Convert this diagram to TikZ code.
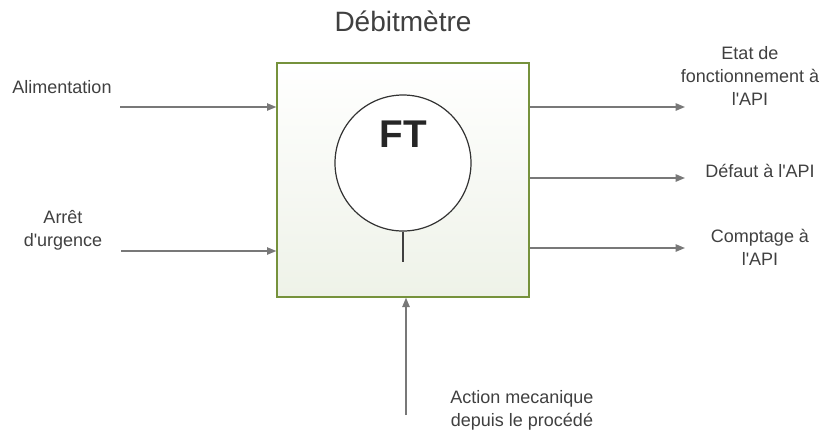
\documentclass[tikz,border=0pt]{standalone}
\usepackage{fontspec}
\setmainfont{Liberation Sans}
\usetikzlibrary{arrows.meta,positioning,calc}
\definecolor{boxgreen}{RGB}{118,146,60}
\definecolor{boxfill}{RGB}{238,242,232}
\definecolor{wiregray}{RGB}{120,120,120}
\definecolor{txtgray}{RGB}{64,64,64}
\tikzset{
    wire/.style  = {-{Triangle[length=7pt,width=5.5pt]}, line width=1.1pt, draw=wiregray},
    lbl/.style   = {align=center, text=txtgray, font=\fontsize{13.5}{17.25}\selectfont, inner sep=0pt}
}
\begin{document}
\begin{tikzpicture}[x=0.75pt, y=-0.75pt,
        unit/.style={rectangle, draw=boxgreen, line width=1pt, top color=white, bottom color=boxfill,
                     minimum width=189pt, minimum height=175.5pt, inner sep=0pt},
        instr/.style={circle, draw=black!80, line width=0.9pt, fill=white, minimum size=102pt, inner sep=0pt}
    ]
    \useasboundingbox (0,0) rectangle (822,437);

    % --- Title and main block ---
    \node[lbl, font=\fontsize{21}{25}\selectfont] (titre) at (403,21) {Débitmètre};
    \node[unit] (debit) at (403,180) {};
    \node[instr] (ft) at (403,163) {};
    \node[text=black!85, font=\fontsize{29}{32}\selectfont\bfseries] (ftlbl) at (403,134) {FT};
    \coordinate (tige) at (403,262);
    \draw[line width=1pt, draw=black!75] (ft.south) -- (tige);

    % --- Inputs ---
    \node[lbl] (alim) at (62,87) {Alimentation};
    \node[lbl] (arret) at (63,230) {Arrêt\\d\textquotesingle urgence};
    \coordinate (alim_in) at (120,107);
    \coordinate (arret_in) at (121,251);
    \draw[wire] (alim_in) -- (debit.west |- alim_in);
    \draw[wire] (arret_in) -- (debit.west |- arret_in);

    % --- Outputs ---
    \coordinate (etat_out) at (685,107);
    \coordinate (defaut_out) at (685,178);
    \coordinate (compt_out) at (685,248);
    \node[lbl] (etat) at (750,76) {Etat de\\fonctionnement à\\l\textquotesingle API};
    \node[lbl] (defaut) at (760,171) {Défaut à l\textquotesingle API};
    \node[lbl] (compt) at (760,247) {Comptage à\\l\textquotesingle API};
    \draw[wire] (debit.east |- etat_out) -- (etat_out);
    \draw[wire] (debit.east |- defaut_out) -- (defaut_out);
    \draw[wire] (debit.east |- compt_out) -- (compt_out);

    % --- Process action ---
    \coordinate (proc_in) at (406,415);
    \node[lbl] (action) at (522,410) {Action mecanique\\depuis le procédé};
    \draw[wire] (proc_in) -- (debit.south -| proc_in);
\end{tikzpicture}
\end{document}
